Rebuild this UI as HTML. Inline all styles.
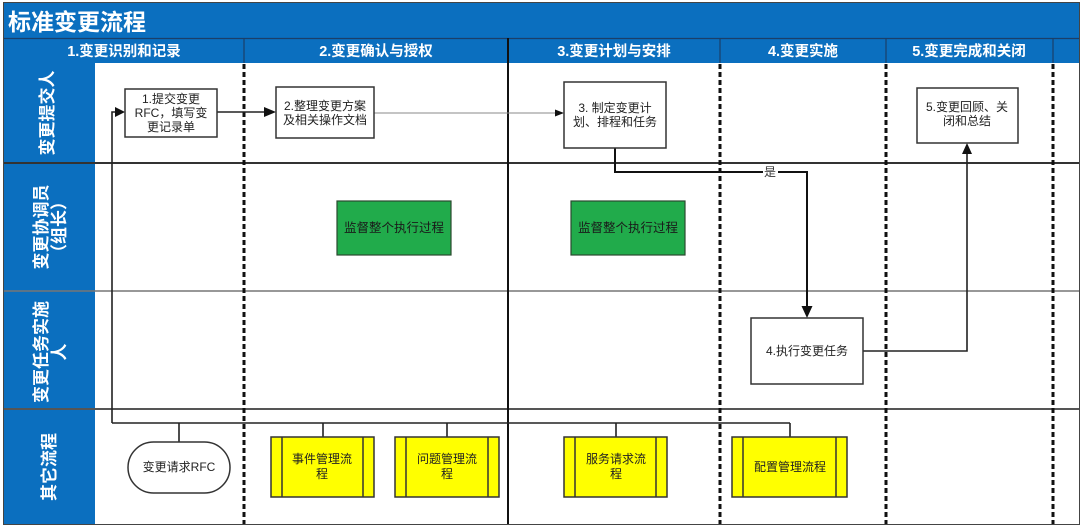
<!DOCTYPE html>
<html>
<head>
<meta charset="utf-8">
<style>
html,body{margin:0;padding:0;background:#fff;}
svg{display:block;}
text{font-family:"Liberation Sans","Noto Sans CJK SC",sans-serif;}
</style>
</head>
<body>
<svg width="1085" height="529" viewBox="0 0 1085 529" xmlns="http://www.w3.org/2000/svg">
  <rect x="0" y="0" width="1085" height="529" fill="#fff"/>
  <!-- title bar -->
  <rect x="4" y="3" width="1075" height="35" fill="#0b6fbf"/>
  <text x="8" y="30" font-size="23" font-weight="bold" fill="#fff">标准变更流程</text>
  <!-- header row -->
  <rect x="4" y="38" width="1075" height="25" fill="#0b6fbf"/>
  <line x1="4" y1="38.5" x2="1079" y2="38.5" stroke="#1b3f69" stroke-width="1.2"/>
  <g stroke="#1b3f69" stroke-width="1.2">
    <line x1="244" y1="38" x2="244" y2="63"/>
    <line x1="720" y1="38" x2="720" y2="63"/>
    <line x1="886" y1="38" x2="886" y2="63"/>
    <line x1="1053" y1="38" x2="1053" y2="63"/>
  </g>
  <g font-size="14.5" font-weight="bold" fill="#fff" text-anchor="middle">
    <text x="124" y="56">1.变更识别和记录</text>
    <text x="376" y="56">2.变更确认与授权</text>
    <text x="614" y="56">3.变更计划与安排</text>
    <text x="803" y="56">4.变更实施</text>
    <text x="969" y="56">5.变更完成和关闭</text>
  </g>
  <!-- lane header column -->
  <rect x="4" y="63" width="91" height="461" fill="#0b6fbf"/>
  <!-- row separators -->
  <line x1="4" y1="163" x2="1079" y2="163" stroke="#333" stroke-width="2"/>
  <line x1="4" y1="291" x2="1079" y2="291" stroke="#777" stroke-width="1.5"/>
  <line x1="4" y1="409" x2="1079" y2="409" stroke="#555" stroke-width="2"/>
  <!-- lane labels -->
  <g font-size="17" font-weight="bold" fill="#fff" text-anchor="middle">
    <text transform="translate(53,113) rotate(-90)">变更提交人</text>
    <text transform="translate(47,227) rotate(-90)">变更协调员</text>
    <text transform="translate(65,227) rotate(-90)">（组长）</text>
    <text transform="translate(47,352) rotate(-90)">变更任务实施</text>
    <text transform="translate(65,352) rotate(-90)">人</text>
    <text transform="translate(55,467) rotate(-90)">其它流程</text>
  </g>
  <!-- vertical column lines -->
  <line x1="508" y1="38" x2="508" y2="524" stroke="#111" stroke-width="2"/>
  <g stroke="#111" stroke-width="3" stroke-dasharray="5 3">
    <line x1="244" y1="64" x2="244" y2="524"/>
    <line x1="720" y1="64" x2="720" y2="524"/>
    <line x1="886" y1="64" x2="886" y2="524"/>
    <line x1="1053" y1="64" x2="1053" y2="524"/>
  </g>
  <!-- outer border -->
  <rect x="3.5" y="2.5" width="1076" height="522" fill="none" stroke="#444" stroke-width="1"/>

  <!-- connectors -->
  <g fill="none" stroke="#222" stroke-width="1.6">
    <polyline points="112,423 790,423"/>
    <line x1="179" y1="423" x2="179" y2="442"/>
    <line x1="323" y1="423" x2="323" y2="437"/>
    <line x1="447" y1="423" x2="447" y2="437"/>
    <line x1="616" y1="423" x2="616" y2="437"/>
    <line x1="790" y1="423" x2="790" y2="437"/>
    <polyline points="112,423 112,112 117,112"/>
    <line x1="217" y1="112" x2="266" y2="112"/>
    <polyline points="863,351 967,351 967,153"/>
  </g>
  <line x1="374" y1="113" x2="556" y2="113" stroke="#888" stroke-width="1"/>
  <polyline points="615,148 615,172 807,172 807,308" fill="none" stroke="#111" stroke-width="2"/>
  <g fill="#111">
    <polygon points="125,112 115,107 115,117"/>
    <polygon points="276,112 264,107 264,117"/>
    <polygon points="564,113 555,109.5 555,116.5"/>
    <polygon points="807,318 801.5,306 812.5,306"/>
    <polygon points="967,143 962,154 972,154"/>
  </g>
  <rect x="763" y="165" width="15" height="13" fill="#fff"/>
  <text x="770" y="176" font-size="12" fill="#333" text-anchor="middle">是</text>

  <!-- process boxes -->
  <g fill="#fff" stroke="#333" stroke-width="1.5">
    <rect x="125" y="89" width="92" height="48"/>
    <rect x="276" y="87" width="98" height="51"/>
    <rect x="564" y="82" width="102" height="66"/>
    <rect x="917" y="88" width="101" height="55"/>
    <rect x="751" y="318" width="112" height="66"/>
    <rect x="128" y="442" width="102" height="51" rx="25.5" ry="25.5"/>
  </g>
  <g font-size="12" fill="#222" text-anchor="middle">
    <text x="171" y="103">1.提交变更</text>
    <text x="171" y="117">RFC，填写变</text>
    <text x="171" y="131">更记录单</text>
    <text x="325" y="110">2.整理变更方案</text>
    <text x="325" y="124">及相关操作文档</text>
    <text x="615" y="112">3. 制定变更计</text>
    <text x="615" y="126">划、排程和任务</text>
    <text x="967" y="111">5.变更回顾、关</text>
    <text x="967" y="125">闭和总结</text>
    <text x="807" y="355">4.执行变更任务</text>
    <text x="179" y="471">变更请求RFC</text>
  </g>

  <!-- green boxes -->
  <g fill="#21ab4b" stroke="#2b4a30" stroke-width="1.2">
    <rect x="337" y="201" width="114" height="54"/>
    <rect x="571" y="201" width="114" height="54"/>
  </g>
  <g font-size="12.5" fill="#1a1a1a" text-anchor="middle">
    <text x="394" y="232">监督整个执行过程</text>
    <text x="628" y="232">监督整个执行过程</text>
  </g>

  <!-- yellow subprocess boxes -->
  <g fill="#ffff00" stroke="#333" stroke-width="1.5">
    <rect x="271" y="437" width="103" height="60"/>
    <rect x="395" y="437" width="104" height="60"/>
    <rect x="564" y="437" width="103" height="60"/>
    <rect x="732" y="437" width="115" height="60"/>
  </g>
  <g stroke="#333" stroke-width="1.5">
    <line x1="282" y1="437" x2="282" y2="497"/>
    <line x1="363" y1="437" x2="363" y2="497"/>
    <line x1="406" y1="437" x2="406" y2="497"/>
    <line x1="488" y1="437" x2="488" y2="497"/>
    <line x1="575" y1="437" x2="575" y2="497"/>
    <line x1="656" y1="437" x2="656" y2="497"/>
    <line x1="743" y1="437" x2="743" y2="497"/>
    <line x1="836" y1="437" x2="836" y2="497"/>
  </g>
  <g font-size="12" fill="#222" text-anchor="middle">
    <text x="322" y="463">事件管理流</text>
    <text x="322" y="478">程</text>
    <text x="447" y="463">问题管理流</text>
    <text x="447" y="478">程</text>
    <text x="616" y="463">服务请求流</text>
    <text x="616" y="478">程</text>
    <text x="790" y="471">配置管理流程</text>
  </g>
</svg>
</body>
</html>
